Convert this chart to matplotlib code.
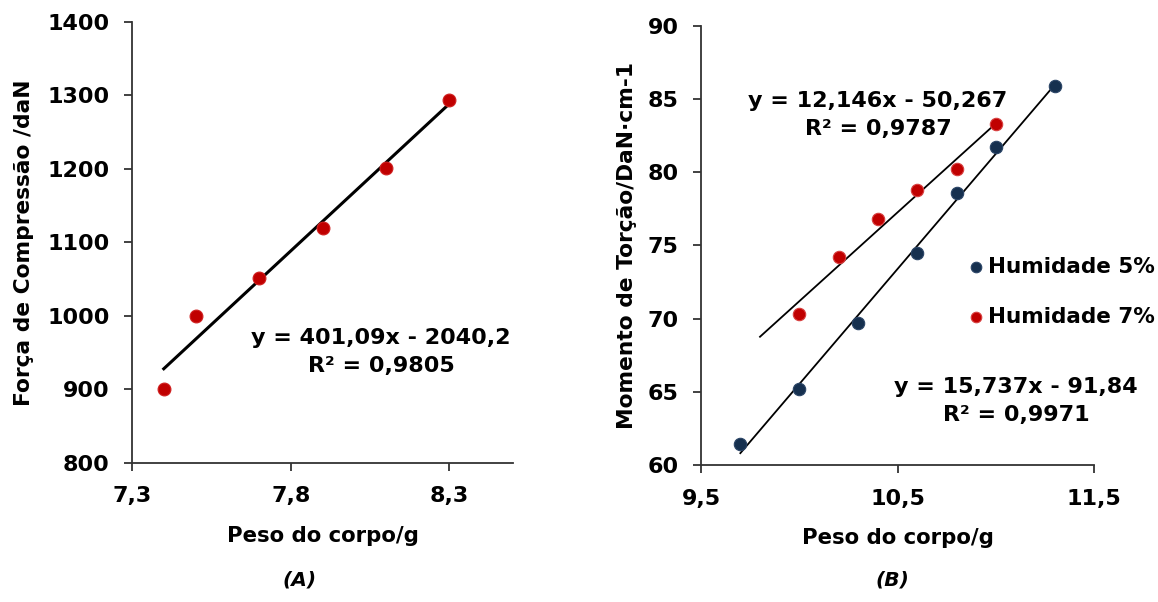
import numpy as np
import matplotlib
matplotlib.use("Agg")
import matplotlib.pyplot as plt

# (A) Força de compressão vs peso do corpo
peso_a = [7.4, 7.5, 7.7, 7.9, 8.1, 8.3]
forca = [900, 1000, 1052, 1120, 1201, 1294]
coef_a = [401.09, -2040.2]

# (B) Momento de torção vs peso do corpo
peso_5 = [9.7, 10.0, 10.3, 10.6, 10.8, 11.0, 11.3]
torcao_5 = [61.4, 65.2, 69.7, 74.5, 78.6, 81.7, 85.9]
coef_5 = [15.737, -91.84]
peso_7 = [10.0, 10.2, 10.4, 10.6, 10.8, 11.0]
torcao_7 = [70.3, 74.2, 76.8, 78.8, 80.2, 83.3]
coef_7 = [12.146, -50.267]
trend_7_x = [9.8, 11.0]

plt.rcParams['font.family'] = ['DejaVu Sans']
plt.rcParams['font.weight'] = 'bold'
azul = '#16304f'
vermelho = '#c00000'

fig = plt.figure(figsize=(11.58, 6.02), dpi=100)
ax1 = fig.add_axes([0.114, 0.2314, 0.329, 0.7321])
ax2 = fig.add_axes([0.6054, 0.2276, 0.3394, 0.7292])

def estilo(ax):
    for s in ['top', 'right']:
        ax.spines[s].set_visible(False)
    for s in ['left', 'bottom']:
        ax.spines[s].set_linewidth(1.3)
        ax.spines[s].set_color('#333333')
    ax.tick_params(direction='out', length=6, width=1.3, color='#333333',
                   labelsize=16)
    ax.tick_params(axis='y', pad=10)
    ax.tick_params(axis='x', pad=11)
    for lab in ax.get_xticklabels() + ax.get_yticklabels():
        lab.set_fontweight('bold')

# painel A
ax1.scatter(peso_a, forca, s=85, color=vermelho, edgecolor='#d02020', lw=0.8, zorder=3)
xa = np.array([peso_a[0], peso_a[-1]])
ax1.plot(xa, coef_a[0] * xa + coef_a[1], color='black', lw=2.2, zorder=2)
ax1.set_xlim(7.3, 8.5)
ax1.set_ylim(800, 1400)
ax1.set_xticks([7.3, 7.8, 8.3])
ax1.set_xticklabels(['7,3', '7,8', '8,3'])
ax1.set_yticks(range(800, 1401, 100))
estilo(ax1)
ax1.set_xlabel('Peso do corpo/g', fontsize=15.3, fontweight='bold', labelpad=14)
ax1.set_ylabel('Força de Compressão /daN', fontsize=15.7, fontweight='bold', labelpad=10)
ax1.text(0.654, 0.251, 'y = 401,09x - 2040,2\nR² = 0,9805', transform=ax1.transAxes,
         ha='center', va='center', fontsize=16, fontweight='bold', linespacing=1.5)

# painel B
ax2.scatter(peso_5, torcao_5, s=80, color=azul, edgecolor='#2a4466', lw=0.8, zorder=3,
            label='Humidade 5%')
ax2.scatter(peso_7, torcao_7, s=80, color=vermelho, edgecolor='#d84040', lw=0.8, zorder=3,
            label='Humidade 7%')
x5 = np.array([peso_5[0], peso_5[-1]])
ax2.plot(x5, coef_5[0] * x5 + coef_5[1], color='black', lw=1.3, zorder=2)
x7 = np.array(trend_7_x)
ax2.plot(x7, coef_7[0] * x7 + coef_7[1], color='black', lw=1.3, zorder=2)
ax2.set_xlim(9.5, 11.5)
ax2.set_ylim(60, 90)
ax2.set_xticks([9.5, 10.5, 11.5])
ax2.set_xticklabels(['9,5', '10,5', '11,5'])
ax2.set_yticks(range(60, 91, 5))
estilo(ax2)
ax2.set_xlabel('Peso do corpo/g', fontsize=15.3, fontweight='bold', labelpad=14)
ax2.set_ylabel('Momento de Torção/DaN·cm-1', fontsize=15.7, fontweight='bold', labelpad=8)
ax2.text(0.45, 0.797, 'y = 12,146x - 50,267\nR² = 0,9787', transform=ax2.transAxes,
         ha='center', va='center', fontsize=16, fontweight='bold', linespacing=1.5)
ax2.text(0.802, 0.145, 'y = 15,737x - 91,84\nR² = 0,9971', transform=ax2.transAxes,
         ha='center', va='center', fontsize=16, fontweight='bold', linespacing=1.5)
leg = ax2.legend(loc='center left', bbox_to_anchor=(0.651, 0.394), frameon=False,
                 fontsize=15.5, handletextpad=0.05, markerscale=0.85, labelspacing=1.4,
                 borderaxespad=0, handlelength=1.0)
for t in leg.get_texts():
    t.set_fontweight('bold')

fig.text(0.259, 0.02, '(A)', ha='center', va='bottom', fontsize=14.5,
         fontweight='bold', fontstyle='italic')
fig.text(0.771, 0.02, '(B)', ha='center', va='bottom', fontsize=14.5,
         fontweight='bold', fontstyle='italic')

fig.savefig('out.png', dpi=100)
